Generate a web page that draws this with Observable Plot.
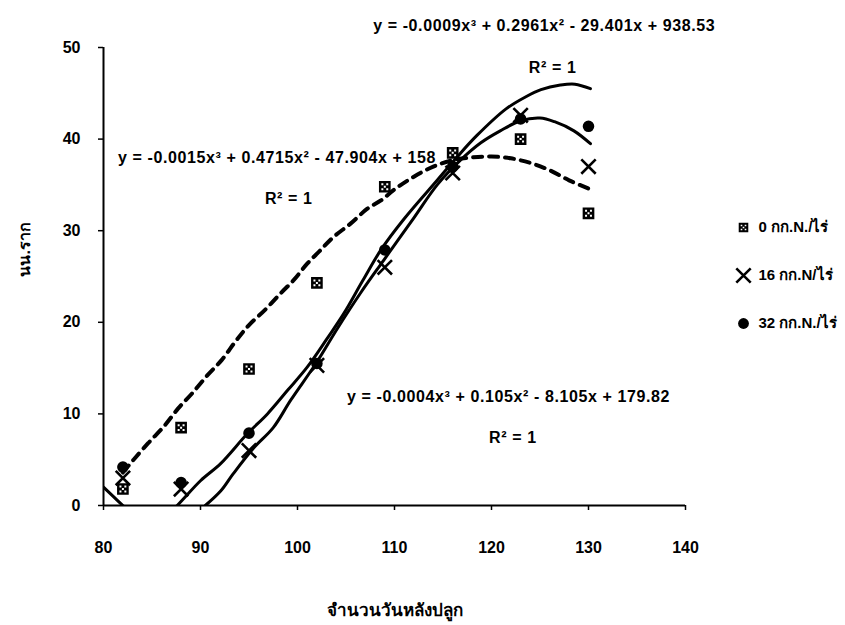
<!DOCTYPE html>
<html>
<head>
<meta charset="utf-8">
<script src="https://cdn.jsdelivr.net/npm/d3@7"></script>
<script src="https://cdn.jsdelivr.net/npm/@observablehq/plot@0.6"></script>
<style>
  html, body { margin: 0; padding: 0; background: #fff; }
  #chart svg { display: block; }
  #chart .eq text { letter-spacing: 0.6px; }
</style>
</head>
<body>
<div id="chart"></div>
<script>
// Root weight (นน.ราก) by days after planting for three nitrogen rates
const days = [82, 88, 95, 102, 109, 116, 123, 130];
const rootN0  = [1.8, 8.5, 14.9, 24.3, 34.8, 38.5, 40.0, 31.9];
const rootN16 = [3.0, 1.8, 6.0, 15.3, 26.0, 36.3, 42.6, 37.0];
const rootN32 = [4.2, 2.5, 7.9, 15.5, 27.9, 37.0, 42.2, 41.4];

// Fitted trend curves (cubic trend lines), sampled along the x range
const trend0X  = [82, 83.1, 84.6, 86.2, 87.7, 89.1, 90.7, 92.2, 93.6, 95.0, 96.6, 98.2, 99.6, 101.0, 102.3, 103.7, 105.5, 107.2, 108.6, 110.0, 112.0, 114.0, 116.0, 118.0, 120.0, 122.0, 124.0, 126.0, 128.0, 130.0];
const trend0Y  = [3.6, 5.0, 6.8, 8.6, 10.6, 12.2, 14.2, 15.9, 17.9, 19.7, 21.3, 23.1, 24.6, 26.4, 27.8, 29.3, 30.8, 32.4, 33.3, 34.5, 35.9, 37.0, 37.7, 38.0, 38.1, 37.9, 37.4, 36.6, 35.5, 34.6];
const trend16X = [90.5, 92.1, 93.4, 95.5, 97.5, 99.3, 101.9, 104.1, 106.5, 108.9, 112.0, 114.4, 116.8, 118.9, 120.9, 123.0, 125.0, 126.5, 128.5, 130.2];
const trend16Y = [0.0, 1.6, 3.5, 6.3, 8.5, 11.5, 15.5, 19.3, 23.2, 26.8, 31.4, 35.0, 37.7, 39.6, 40.9, 42.0, 42.3, 41.9, 40.9, 39.5];
const trend32X = [80.0, 81.0, 82.0, 84.0, 86.0, 87.6, 90.0, 92.1, 94.8, 96.9, 99.0, 101.0, 103.1, 104.8, 106.7, 108.6, 111.0, 114.4, 116.5, 118.5, 121.5, 123.5, 125.1, 127.1, 128.6, 130.2];
const trend32Y = [2.0, 1.0, 0.0, -1.8, -1.6, 0.0, 2.7, 4.6, 7.8, 10.0, 12.6, 15.1, 18.3, 21.0, 24.5, 27.9, 31.3, 35.5, 38.1, 40.4, 43.3, 44.6, 45.4, 45.9, 46.0, 45.5];

const xTicks = [80, 90, 100, 110, 120, 130, 140];
const yTicks = [0, 10, 20, 30, 40, 50];
const xLabel = "จำนวนวันหลังปลูก";
const yLabel = "นน.ราก";
const seriesNames = ["0 กก.N./ไร่", "16 กก.N/ไร่", "32 กก.N./ไร่"];

// Trend-line equations and their R² labels
const equations = [
  "y = -0.0009x³ + 0.2961x² - 29.401x + 938.53",
  "y = -0.0015x³ + 0.4715x² - 47.904x + 158",
  "y = -0.0004x³ + 0.105x² - 8.105x + 179.82"
];
const rSquared = ["R² = 1", "R² = 1", "R² = 1"];
// where each equation / R² label sits, in data units
const equationAt = [[107.8, 52.4], [81.5, 38.0], [105.1, 11.9]];
const rSquaredAt = [[126.3, 47.8], [99.1, 33.5], [122.2, 7.4]];

// Black square with a small white dice pattern punched through it
const dottedSquare = {
  draw(context, size) {
    const s = Math.sqrt(size) / 2;
    context.moveTo(-s, -s); context.lineTo(s, -s); context.lineTo(s, s); context.lineTo(-s, s); context.closePath();
    const h = s * 0.17;
    for (const [cx, cy] of [[-0.42, -0.42], [0.42, -0.42], [0, 0], [-0.42, 0.42], [0.42, 0.42]]) {
      const px = cx * s, py = cy * s;
      context.moveTo(px - h, py - h); context.lineTo(px - h, py + h); context.lineTo(px + h, py + h); context.lineTo(px + h, py - h); context.closePath();
    }
  }
};

const pts = (xs, ys) => xs.map((x, i) => ({x, y: ys[i]}));
const n0 = pts(days, rootN0), n16 = pts(days, rootN16), n32 = pts(days, rootN32);
const eqData = equations.map((t, i) => ({text: t, x: equationAt[i][0], y: equationAt[i][1]}));
const r2Data = rSquared.map((t, i) => ({text: t, x: rSquaredAt[i][0], y: rSquaredAt[i][1]}));

const FONT = "'Liberation Sans', Arial, sans-serif";
const legendSymbols = [dottedSquare, "times", "circle"];

const legendMarks = seriesNames.flatMap((name, i) => [
  Plot.dot([name], {
    frameAnchor: "top-right", dx: 58, dy: 180 + 48 * i,
    symbol: () => legendSymbols[i],
    r: i === 1 ? 6.6 : (i === 0 ? 5.4 : 5.4),
    fill: i === 1 ? "none" : "#000", stroke: i === 1 ? "#000" : "none", strokeWidth: 2.6
  }),
  Plot.text([name], {
    frameAnchor: "top-right", dx: 73, dy: 180 + 48 * i,
    text: d => d, textAnchor: "start", lineAnchor: "middle",
    fontSize: 15, fontWeight: "bold", fill: "#000"
  })
]);

const chart = Plot.plot({
  width: 845,
  height: 625,
  marginLeft: 103,
  marginRight: 160,
  marginTop: 47,
  marginBottom: 120,
  style: {fontFamily: FONT, background: "#fff", color: "#000", overflow: "visible"},
  x: {domain: [80, 140]},
  y: {domain: [0, 50]},
  symbol: {type: "identity"},
  marks: [
    Plot.axisX({ticks: xTicks, tickSize: 5, tickPadding: 31, fontSize: 16, fontWeight: "bold", label: null, strokeWidth: 1.5}),
    Plot.axisY({ticks: yTicks, tickSize: 5, tickPadding: 18, fontSize: 16, fontWeight: "bold", label: null, strokeWidth: 1.5}),
    Plot.ruleY([0], {stroke: "#000", strokeWidth: 2}),
    Plot.ruleX([80], {stroke: "#000", strokeWidth: 2}),

    // trend lines
    Plot.line(pts(trend0X, trend0Y), {x: "x", y: "y", curve: "catmull-rom", stroke: "#000", strokeWidth: 4, strokeDasharray: "9,7", clip: true}),
    Plot.line(pts(trend16X, trend16Y), {x: "x", y: "y", curve: "catmull-rom", stroke: "#000", strokeWidth: 3, clip: true}),
    Plot.line(pts(trend32X, trend32Y), {x: "x", y: "y", curve: "catmull-rom", stroke: "#000", strokeWidth: 3, clip: true}),

    // observed values
    Plot.dot(n0, {x: "x", y: "y", symbol: () => dottedSquare, r: 6.6, fill: "#000"}),
    Plot.dot(n16, {x: "x", y: "y", symbol: () => "times", r: 6.6, stroke: "#000", strokeWidth: 2.6}),
    Plot.dot(n32, {x: "x", y: "y", symbol: () => "circle", r: 5.8, fill: "#000"}),

    // equations
    Plot.text(eqData, {x: "x", y: "y", text: "text", textAnchor: "start", lineAnchor: "middle", fontSize: 16, fontWeight: "bold", fill: "#000", className: "eq"}),
    Plot.text(r2Data, {x: "x", y: "y", text: "text", textAnchor: "middle", lineAnchor: "middle", fontSize: 16, fontWeight: "bold", fill: "#000", className: "eq"}),

    // axis titles
    Plot.text([xLabel], {frameAnchor: "bottom", dy: 105, text: d => d, lineAnchor: "middle", fontSize: 17, fontWeight: "bold", fill: "#000"}),
    Plot.text([yLabel], {frameAnchor: "left", dx: -79, text: d => d, rotate: -90, lineAnchor: "middle", fontSize: 16, fontWeight: "bold", fill: "#000"}),

    ...legendMarks
  ]
});

document.getElementById("chart").append(chart);
</script>
</body>
</html>
